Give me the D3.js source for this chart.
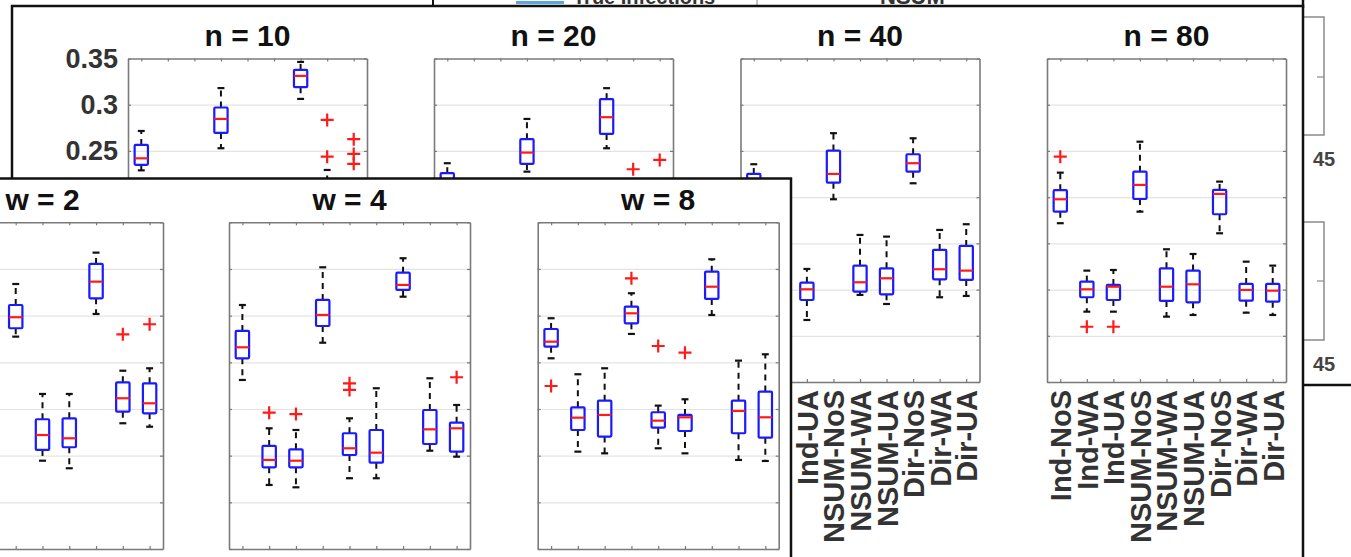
<!DOCTYPE html>
<html><head><meta charset="utf-8">
<script src="https://cdn.jsdelivr.net/npm/d3@7"></script>
<style>
html,body{margin:0;padding:0;background:#fff;overflow:hidden;}
svg{display:block;font-family:"Liberation Sans",Arial,Helvetica,sans-serif;}
</style></head>
<body><svg id="chart" width="1351" height="557"></svg>
<script>
// ---------------- DATA ----------------
const categories = ["Ind-NoS","Ind-WA","Ind-UA","NSUM-NoS","NSUM-WA","NSUM-UA","Dir-NoS","Dir-WA","Dir-UA"];
const yTickValues = [0, 0.05, 0.1, 0.15, 0.2, 0.25, 0.3, 0.35];
const yTickLabels = ["0","0.05","0.1","0.15","0.2","0.25","0.3","0.35"];
const nTitles = ["n = 10","n = 20","n = 40","n = 80"];
const wTitles = ["w = 2","w = 4","w = 8"];
const legendLabels = ["True Infections","NSUM"];
const sideLabels = ["45","45"];

// box stats per category: [lower whisker, Q1, median, Q3, upper whisker]
const n10Boxes = [
  [0.229,0.235,0.242,0.2565,0.2716],[0.118,0.132,0.142,0.152,0.17],[0.115,0.13,0.14,0.15,0.168],
  [0.2529,0.2695,0.2846,0.297,0.318],[0.135,0.15,0.162,0.175,0.2],[0.13,0.148,0.16,0.172,0.195],
  [0.3063,0.319,0.3312,0.3377,0.3463],[0.16,0.18,0.19,0.205,0.2294],[0.16,0.178,0.188,0.2,0.218]];
const n10Outliers = [[],[],[],[],[],[],[],[0.2835,0.2438],[0.2627,0.2468,0.236]];

const n20Boxes = [
  [0.19,0.205,0.213,0.2259,0.2367],[0.09,0.105,0.115,0.125,0.14],[0.09,0.105,0.113,0.123,0.138],
  [0.2276,0.2359,0.2482,0.2627,0.2846],[0.1,0.12,0.13,0.145,0.17],[0.1,0.118,0.128,0.142,0.168],
  [0.2529,0.2684,0.2865,0.306,0.3179],[0.12,0.14,0.152,0.165,0.19],[0.12,0.138,0.15,0.163,0.19]];
const n20Outliers = [[],[],[],[],[],[],[],[0.2302],[0.2403]];

const n40Boxes = [
  [0.18,0.2,0.21,0.2251,0.2356],[0.07,0.088,0.1,0.108,0.122],[0.0671,0.0887,0.1003,0.1075,0.1223],
  [0.1977,0.2157,0.2251,0.2504,0.2692],[0.0942,0.0977,0.1079,0.1259,0.1591],[0.0844,0.0949,0.1122,0.123,0.1573],
  [0.215,0.2276,0.2367,0.2464,0.2637],[0.0917,0.1111,0.122,0.1429,0.1645],[0.0931,0.1104,0.1205,0.1472,0.1707]];
const n40Outliers = [[],[],[],[],[],[],[],[],[]];

const n80Boxes = [
  [0.1718,0.1843,0.1977,0.2075,0.2265],[0.0761,0.0917,0.1003,0.1086,0.1205],[0.0761,0.0887,0.1031,0.105,0.1212],
  [0.1843,0.198,0.2132,0.2276,0.26],[0.0707,0.0877,0.1031,0.123,0.1436],[0.0725,0.0862,0.1057,0.1205,0.1385],
  [0.1609,0.1815,0.2035,0.2078,0.2168],[0.075,0.088,0.0996,0.1061,0.1302],[0.0725,0.0869,0.0988,0.1061,0.1259]];
const n80Outliers = [[0.2438],[0.0598],[0.0598],[],[],[],[],[],[]];

const w2Boxes = [
  [0.19,0.205,0.215,0.225,0.245],[0.075,0.09,0.1,0.11,0.13],[0.075,0.09,0.1,0.11,0.13],
  [0.2275,0.2365,0.2483,0.2614,0.2839],[0.0946,0.1061,0.1221,0.139,0.1661],[0.0865,0.109,0.1186,0.14,0.1661],
  [0.2518,0.2686,0.2864,0.3054,0.3175],[0.1347,0.1471,0.1615,0.1786,0.191],[0.131,0.1454,0.1561,0.1775,0.1936]];
const w2Outliers = [[],[],[],[],[],[],[],[0.23],[0.2408]];

const w4Boxes = [
  [0.1811,0.2043,0.2161,0.2336,0.2614],[0.0686,0.0875,0.0954,0.1104,0.1293],[0.0661,0.0875,0.0946,0.1068,0.1275],
  [0.221,0.2389,0.2507,0.2668,0.3018],[0.0758,0.1007,0.1079,0.124,0.14],[0.0758,0.0925,0.1032,0.1275,0.1722],
  [0.2703,0.2775,0.2829,0.296,0.3115],[0.1053,0.1125,0.1282,0.1489,0.1829],[0.0989,0.1043,0.1293,0.1353,0.1543]];
const w4Outliers = [[],[0.146],[0.1446],[],[0.1775,0.1704],[],[],[],[0.184]];

const w8Boxes = [
  [0.2043,0.2168,0.2221,0.2357,0.2472],[0.1043,0.1275,0.1407,0.1518,0.1872],[0.1025,0.1204,0.1436,0.1589,0.1936],
  [0.2304,0.2418,0.2525,0.2596,0.274],[0.1079,0.13,0.1375,0.1465,0.1536],[0.1025,0.1264,0.1411,0.1436,0.1604],
  [0.2507,0.2679,0.281,0.2971,0.3104],[0.0954,0.124,0.1479,0.1589,0.2018],[0.0943,0.1193,0.1411,0.1686,0.2086]];
const w8Outliers = [[0.1746],[],[],[0.29],[0.2175],[0.2103],[],[],[]];

// ---------------- LAYOUT ----------------
const svg = d3.select("#chart");
const FONT_TICK = 27, FONT_TITLE = 30, FONT_CAT = 29;

const nPanels = [
  {title:nTitles[0], boxes:n10Boxes, outliers:n10Outliers, x0:128,   showY:true},
  {title:nTitles[1], boxes:n20Boxes, outliers:n20Outliers, x0:434,   showY:false},
  {title:nTitles[2], boxes:n40Boxes, outliers:n40Outliers, x0:740.5, showY:false},
  {title:nTitles[3], boxes:n80Boxes, outliers:n80Outliers, x0:1047,  showY:false}];
const nGeom = {top:58.5, bottom:382, width:239};

const wPanels = [
  {title:wTitles[0], boxes:w2Boxes, outliers:w2Outliers, x0:-78,   showY:true},
  {title:wTitles[1], boxes:w4Boxes, outliers:w4Outliers, x0:229,   showY:false},
  {title:wTitles[2], boxes:w8Boxes, outliers:w8Outliers, x0:537.7, showY:false}];
const wGeom = {top:222.3, bottom:549, width:241};

function drawAxes(g, p, geom) {
  const x0 = p.x0, w = geom.width;
  const x = d3.scaleLinear().domain([0.5, categories.length + 0.5]).range([x0, x0 + w]);
  const y = d3.scaleLinear().domain([0, 0.35]).range([geom.bottom, geom.top]);
  const idx = categories.map((c, i) => i + 1);

  // grid
  g.append("g").attr("transform", `translate(${x0},0)`)
    .call(d3.axisLeft(y).tickValues(yTickValues.slice(1, -1)).tickSize(-w).tickFormat(""))
    .call(s => { s.select(".domain").remove(); s.selectAll("line").attr("stroke", "#e3e3e3").attr("stroke-width", 1.2); });

  const axColor = "#7a7a7a";
  // left axis
  const left = g.append("g").attr("transform", `translate(${x0},0)`)
    .call(d3.axisLeft(y).tickValues(yTickValues).tickSize(-3).tickSizeOuter(0).tickPadding(10)
      .tickFormat((d, i) => p.showY ? yTickLabels[i] : ""));
  left.selectAll("text").attr("font-size", FONT_TICK).attr("font-weight", "bold").attr("fill", "#333")
    .attr("font-family", "Liberation Sans, Arial, sans-serif");
  // right axis
  g.append("g").attr("transform", `translate(${x0 + w},0)`)
    .call(d3.axisRight(y).tickValues(yTickValues).tickSize(-3).tickSizeOuter(0).tickFormat(""));
  // top axis
  g.append("g").attr("transform", `translate(0,${geom.top})`)
    .call(d3.axisTop(x).tickValues(idx).tickSize(-3).tickSizeOuter(0).tickFormat(""));
  // bottom axis with rotated labels
  const bottom = g.append("g").attr("transform", `translate(0,${geom.bottom})`)
    .call(d3.axisBottom(x).tickValues(idx).tickSize(-3).tickSizeOuter(0).tickFormat(d => categories[d - 1]));
  bottom.selectAll("text")
    .attr("transform", "rotate(-90)").attr("text-anchor", "end")
    .attr("x", -8).attr("y", 0).attr("dy", "0.36em")
    .attr("font-size", FONT_CAT).attr("font-weight", "bold").attr("fill", "#333")
    .attr("font-family", "Liberation Sans, Arial, sans-serif");
  g.selectAll(".domain").attr("stroke", axColor).attr("stroke-width", 1.6);
  g.selectAll(".tick line").filter(function(){ return d3.select(this).attr("stroke") !== "#e3e3e3"; })
    .attr("stroke", axColor).attr("stroke-width", 1.2);

  // title
  g.append("text").attr("x", x0 + w / 2).attr("y", geom.top - 12.5)
    .attr("text-anchor", "middle").attr("font-size", FONT_TITLE).attr("font-weight", "bold")
    .attr("fill", "#111").text(p.title);

  // boxes
  const half = x(1.25) - x(1), capHalf = x(1.13) - x(1);
  const bg = g.append("g");
  p.boxes.forEach((s, i) => {
    const cx = x(i + 1);
    const [lw, q1, med, q3, uw] = s;
    const wk = bg.append("g").attr("stroke", "#111").attr("fill", "none");
    wk.append("line").attr("x1", cx).attr("x2", cx).attr("y1", y(q3)).attr("y2", y(uw))
      .attr("stroke-width", 2).attr("stroke-dasharray", "6,5");
    wk.append("line").attr("x1", cx).attr("x2", cx).attr("y1", y(q1)).attr("y2", y(lw))
      .attr("stroke-width", 2).attr("stroke-dasharray", "6,5");
    wk.append("line").attr("x1", cx - capHalf).attr("x2", cx + capHalf).attr("y1", y(uw)).attr("y2", y(uw)).attr("stroke-width", 2.2);
    wk.append("line").attr("x1", cx - capHalf).attr("x2", cx + capHalf).attr("y1", y(lw)).attr("y2", y(lw)).attr("stroke-width", 2.2);
    bg.append("rect").attr("x", cx - half).attr("width", 2 * half)
      .attr("y", y(q3)).attr("height", y(q1) - y(q3))
      .attr("fill", "none").attr("stroke", "#1a1aff").attr("stroke-width", 2.2).attr("rx", 1);
    bg.append("line").attr("x1", cx - half).attr("x2", cx + half).attr("y1", y(med)).attr("y2", y(med))
      .attr("stroke", "#ff1a1a").attr("stroke-width", 2.2);
    p.outliers[i].forEach(o => {
      const oy = y(o);
      bg.append("path").attr("d", `M${cx - 6.5},${oy}H${cx + 6.5}M${cx},${oy - 6.5}V${oy + 6.5}`)
        .attr("stroke", "#ff1a1a").attr("stroke-width", 2.2).attr("fill", "none");
    });
  });
}

// ---------- background figure fragments ----------
const bgLayer = svg.append("g");
bgLayer.append("rect").attr("x", 0).attr("y", 0).attr("width", 1351).attr("height", 557).attr("fill", "#fff");
bgLayer.append("line").attr("x1", 433).attr("x2", 433).attr("y1", 0).attr("y2", 7).attr("stroke", "#111").attr("stroke-width", 2);
bgLayer.append("line").attr("x1", 757).attr("x2", 757).attr("y1", 0).attr("y2", 7).attr("stroke", "#999").attr("stroke-width", 1.2);
bgLayer.append("line").attr("x1", 516).attr("x2", 564).attr("y1", 2.5).attr("y2", 2.5).attr("stroke", "#5fa4dc").attr("stroke-width", 3);
bgLayer.append("text").attr("x", 573).attr("y", 4).attr("font-size", 20).attr("font-weight", "bold").attr("fill", "#333").text(legendLabels[0]);
bgLayer.append("text").attr("x", 880).attr("y", 4).attr("font-size", 22).attr("font-weight", "bold").attr("fill", "#333").text(legendLabels[1]);
// right-side axes fragments
[[17, 135, 77, 158], [222, 340, 281, 363]].forEach((b, i) => {
  bgLayer.append("path").attr("d", `M1300,${b[0]}H1324V${b[1]}H1300`).attr("fill", "none").attr("stroke", "#8a8a8a").attr("stroke-width", 1.5);
  bgLayer.append("line").attr("x1", 1317).attr("x2", 1324).attr("y1", b[2]).attr("y2", b[2]).attr("stroke", "#8a8a8a").attr("stroke-width", 1.2);
  bgLayer.append("text").attr("x", 1324).attr("y", b[3] + 8).attr("text-anchor", "middle")
    .attr("font-size", 20).attr("font-weight", "bold").attr("fill", "#444").text(sideLabels[i]);
});
bgLayer.append("line").attr("x1", 1303).attr("x2", 1351).attr("y1", 385).attr("y2", 385).attr("stroke", "#111").attr("stroke-width", 2.5);
bgLayer.append("line").attr("x1", 1303).attr("x2", 1303).attr("y1", 0).attr("y2", 8).attr("stroke", "#111").attr("stroke-width", 2.5);

// ---------- n panel ----------
const nLayer = svg.append("g");
nLayer.append("rect").attr("x", 12).attr("y", 6).attr("width", 1291).attr("height", 620)
  .attr("fill", "#fff").attr("stroke", "#111").attr("stroke-width", 2.5);
nPanels.forEach(p => drawAxes(nLayer.append("g"), p, nGeom));

// ---------- w panel ----------
const wLayer = svg.append("g");
wLayer.append("rect").attr("x", -20).attr("y", 178.5).attr("width", 811).attr("height", 420)
  .attr("fill", "#fff").attr("stroke", "#111").attr("stroke-width", 2.5);
wPanels.forEach(p => drawAxes(wLayer.append("g"), p, wGeom));
</script></body></html>
